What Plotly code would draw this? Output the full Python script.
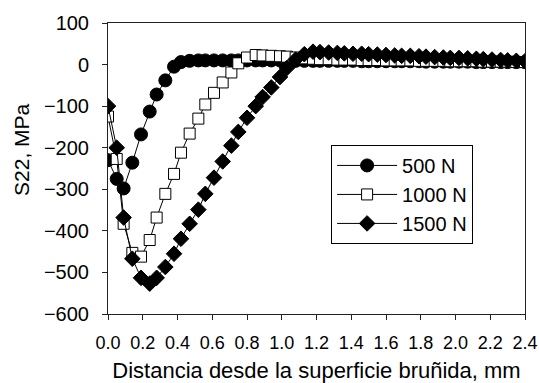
import plotly.graph_objects as go

# Distance from burnished surface (mm)
x_mm = [0.00, 0.05, 0.09, 0.14, 0.19, 0.24, 0.28, 0.33, 0.38, 0.42, 0.47, 0.52, 0.56,
        0.61, 0.66, 0.71, 0.75, 0.80, 0.85, 0.89, 0.94, 0.99, 1.03, 1.08, 1.13, 1.18,
        1.22, 1.27, 1.32, 1.36, 1.41, 1.46, 1.50, 1.55, 1.60, 1.65, 1.69, 1.74, 1.79,
        1.83, 1.88, 1.93, 1.97, 2.02, 2.07, 2.12, 2.16, 2.21, 2.26, 2.30, 2.35, 2.40]

s22_500 = [-230, -275, -298, -236, -168, -113, -72, -38, -5, 6, 9, 10, 10, 10, 10, 10,
           10, 10, 10, 10, 10, 10, 10, 9, 9, 9, 9, 9, 9, 9, 9, 8, 8, 8, 8, 8, 8, 8, 8,
           7, 7, 7, 7, 7, 7, 6, 6, 6, 6, 6, 6, 6]

s22_1000 = [-125, -227, -383, -453, -462, -422, -368, -311, -263, -212, -166, -130, -96,
            -68, -43, -19, 3, 17, 23, 22, 21, 20, 19, 17, 15, 14, 13, 13, 12, 12, 12,
            11, 11, 11, 10, 10, 10, 10, 9, 9, 9, 9, 8, 8, 8, 8, 7, 7, 7, 7, 6, 6]

s22_1500 = [-100, -200, -368, -467, -513, -527, -513, -487, -455, -419, -383, -349, -311,
            -272, -233, -195, -162, -128, -100, -78, -55, -30, -8, 12, 25, 31, 30, 29,
            28, 27, 26, 26, 25, 24, 23, 22, 21, 21, 20, 19, 18, 17, 16, 16, 15, 14, 13,
            12, 11, 10, 9, 8]

series_names = ["500 N", "1000 N", "1500 N"]
x_ticks = [0.0, 0.2, 0.4, 0.6, 0.8, 1.0, 1.2, 1.4, 1.6, 1.8, 2.0, 2.2, 2.4]
y_ticks = [100, 0, -100, -200, -300, -400, -500, -600]

FONT = "Liberation Sans, Arial, sans-serif"

fig = go.Figure()
fig.add_trace(go.Scatter(
    x=x_mm, y=s22_500, name=series_names[0], mode="lines+markers",
    line=dict(color="black", width=1),
    marker=dict(symbol="circle", size=13, color="black", line=dict(color="black", width=1)),
))
fig.add_trace(go.Scatter(
    x=x_mm, y=s22_1000, name=series_names[1], mode="lines+markers",
    line=dict(color="black", width=1),
    marker=dict(symbol="square", size=11, color="white", line=dict(color="black", width=1)),
))
fig.add_trace(go.Scatter(
    x=x_mm, y=s22_1500, name=series_names[2], mode="lines+markers",
    line=dict(color="black", width=1),
    marker=dict(symbol="diamond", size=12, color="black", line=dict(color="black", width=1)),
))

fig.update_layout(
    width=539, height=383,
    margin=dict(l=108, r=14, t=23, b=69, autoexpand=False),
    paper_bgcolor="white", plot_bgcolor="white",
    font=dict(family=FONT, color="black"),
    showlegend=True,
    legend=dict(
        x=0.535, y=0.581, xanchor="left", yanchor="top",
        bordercolor="black", borderwidth=1, bgcolor="white",
        font=dict(family=FONT, size=20, color="black"),
        tracegroupgap=0, itemwidth=60, entrywidth=172,
    ),
    annotations=[dict(
        text="S22, MPa", textangle=-90, xref="paper", yref="paper",
        x=-0.206, y=0.564, xanchor="center", yanchor="middle", showarrow=False,
        font=dict(family=FONT, size=21, color="black"),
    )],
)
fig.update_xaxes(
    range=[0, 2.4], tickvals=x_ticks, ticktext=[f"{v:.1f}" for v in x_ticks],
    showgrid=False, zeroline=False, showline=True, linecolor="#222", linewidth=1,
    mirror=True, ticks="outside", ticklen=5, tickcolor="#222", ticklabelstandoff=7,
    automargin=False,
    tickfont=dict(family=FONT, size=18, color="black"),
    title=dict(text="Distancia desde la superficie bruñida, mm",
               font=dict(family=FONT, size=22, color="black"), standoff=14),
)
fig.update_yaxes(
    range=[-600, 100], tickvals=y_ticks,
    showgrid=False, zeroline=False, showline=True, linecolor="#222", linewidth=1,
    mirror=True, ticks="outside", ticklen=5, tickcolor="#222", ticklabelstandoff=9,
    automargin=False,
    tickfont=dict(family=FONT, size=20, color="black"),
)

fig.write_html("out.html")
